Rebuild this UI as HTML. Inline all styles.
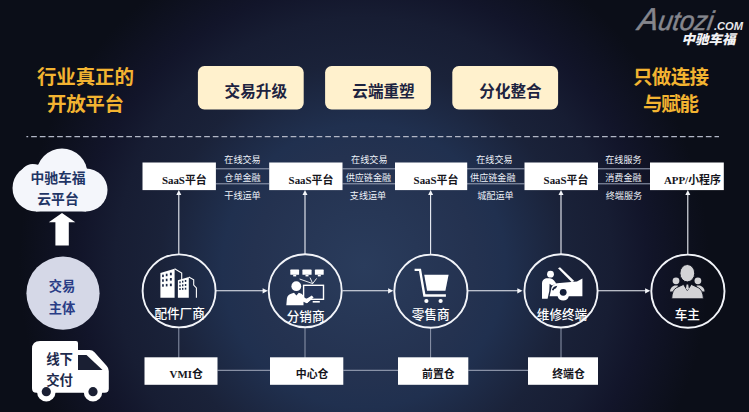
<!DOCTYPE html>
<html lang="zh-CN">
<head>
<meta charset="utf-8">
<title>中驰车福 行业真正的开放平台</title>
<style>
html,body{margin:0;padding:0;background:#0b0e18;}
body{width:749px;height:412px;overflow:hidden;position:relative;}
svg{display:block;position:absolute;left:0;top:0;}
.cjk{font-family:"Liberation Sans","Noto Sans CJK SC",sans-serif;}
.ttl{font-family:"Liberation Sans","Noto Sans CJK SC",sans-serif;font-weight:700;font-size:19.5px;fill:#f3b431;}
.btn{font-family:"Liberation Sans","Noto Sans CJK SC",sans-serif;font-weight:700;font-size:15.6px;fill:#1d2340;}
.box{font-family:"Liberation Serif","Noto Sans CJK SC",serif;font-weight:700;font-size:10.9px;fill:#15151c;}
.lab{font-family:"Liberation Sans","Noto Sans CJK SC",sans-serif;font-weight:400;font-size:9.1px;fill:#eef2f9;}
.cir{font-family:"Liberation Sans","Noto Sans CJK SC",sans-serif;font-weight:500;font-size:12.6px;fill:#ffffff;}
.cld{font-family:"Liberation Sans","Noto Sans CJK SC",sans-serif;font-weight:700;font-size:13.8px;fill:#1f3565;}
.sub{font-family:"Liberation Sans","Noto Sans CJK SC",sans-serif;font-weight:700;font-size:13.3px;fill:#2a3d86;}
.trk{font-family:"Liberation Sans","Noto Sans CJK SC",sans-serif;font-weight:700;font-size:13.4px;fill:#1e2b4d;}
</style>
</head>
<body>
<svg width="749" height="412" viewBox="0 0 749 412">
<defs>
<radialGradient id="bg" cx="364" cy="266" r="345" gradientUnits="userSpaceOnUse">
<stop offset="0" stop-color="#2a3c5c"/>
<stop offset="0.32" stop-color="#243250"/>
<stop offset="0.41" stop-color="#20304f"/>
<stop offset="0.59" stop-color="#1a2239"/>
<stop offset="0.72" stop-color="#171d33"/>
<stop offset="0.82" stop-color="#12152a"/>
<stop offset="1" stop-color="#0b0e18"/>
</radialGradient>
</defs>
<rect width="749" height="412" fill="#0b0e18"/>
<rect width="749" height="412" fill="url(#bg)"/>

<!-- logo -->
<g id="logo">
<text transform="translate(637 29.6) skewX(-9)" font-family="'Liberation Sans',sans-serif" font-style="italic" font-weight="400" fill="#85868d" stroke="#85868d" stroke-width="0.5" textLength="75" lengthAdjust="spacingAndGlyphs"><tspan font-size="31.5">A</tspan><tspan font-size="27">utozi</tspan></text>
<text x="714" y="29.5" font-family="'Liberation Sans',sans-serif" font-style="italic" font-weight="700" font-size="10.5" fill="#e8e8ea" textLength="29" lengthAdjust="spacingAndGlyphs">.COM</text>
<text transform="translate(681.5 43.8) skewX(-14)" font-family="'Liberation Sans','Noto Sans CJK SC',sans-serif" font-weight="900" font-size="13.2" fill="#f2f2f4" textLength="54" lengthAdjust="spacingAndGlyphs">中驰车福</text>
</g>

<!-- titles -->
<text class="ttl" x="85.5" y="83.6" text-anchor="middle" textLength="97" lengthAdjust="spacing">行业真正的</text>
<text class="ttl" x="85.5" y="111.1" text-anchor="middle" textLength="77" lengthAdjust="spacing">开放平台</text>
<text class="ttl" x="671" y="83.6" text-anchor="middle" textLength="76" lengthAdjust="spacing">只做连接</text>
<text class="ttl" x="671" y="111.1" text-anchor="middle" textLength="56" lengthAdjust="spacing">与赋能</text>

<!-- buttons -->
<rect x="197.9" y="66.1" width="105.8" height="43.4" rx="6.5" fill="#fff1cd"/>
<rect x="325.1" y="66.1" width="105.8" height="43.4" rx="6.5" fill="#fff1cd"/>
<rect x="452.3" y="66.1" width="105.8" height="43.4" rx="6.5" fill="#fff1cd"/>
<text class="btn" x="255.8" y="96.5" text-anchor="middle">交易升级</text>
<text class="btn" x="383.5" y="96.5" text-anchor="middle">云端重塑</text>
<text class="btn" x="510.5" y="96.5" text-anchor="middle">分化整合</text>

<!-- dashed line -->
<line x1="26.4" y1="136.6" x2="719" y2="136.6" stroke="#b2b7c6" stroke-width="1.4" stroke-dasharray="5.7 2.95" stroke-dashoffset="3.9"/>

<!-- cloud -->
<g id="cloud" fill="#f4f6fb">
<circle cx="36" cy="188" r="23.5"/>
<circle cx="86" cy="190" r="21.5"/>
<circle cx="62" cy="174" r="25.5"/>
<circle cx="32.5" cy="176" r="12"/>
<rect x="36" y="180" width="50" height="31.5"/>
</g>
<text class="cld" x="58" y="182.8" text-anchor="middle">中驰车福</text>
<text class="cld" x="58" y="204.4" text-anchor="middle">云平台</text>

<!-- big up arrow -->
<path d="M62 213 L75.3 222.3 L68.8 222.3 L68.8 245.5 L55.4 245.5 L55.4 222.3 L48.8 222.3 Z" fill="#ffffff"/>

<!-- subject circle -->
<circle cx="63" cy="293.2" r="36.6" fill="#d5d8e7"/>
<text class="sub" x="62" y="291" text-anchor="middle">交易</text>
<text class="sub" x="62" y="313.4" text-anchor="middle">主体</text>

<!-- truck -->
<g id="truck">
<path d="M40 341 H76 Q78 341 78 343 V350 H89.5 Q92.5 350 94.5 352.3 L106.8 366 Q108.8 368.3 108.8 371 V388.7 Q108.8 392.8 104.7 392.8 H36.5 Q32 392.8 32 388.3 V349 Q32 341 40 341 Z" fill="#ffffff"/>
<path d="M78 355 H86.5 L102.5 370 H78 Z" fill="#1a1f33"/>
<circle cx="46.3" cy="392.3" r="9.2" fill="#ffffff"/>
<circle cx="93" cy="392.3" r="9.2" fill="#ffffff"/>
<circle cx="46.3" cy="391.7" r="4.6" fill="#1a1f33"/>
<circle cx="93" cy="391.7" r="4.6" fill="#1a1f33"/>
</g>
<text class="trk" x="59.6" y="363.6" text-anchor="middle">线下</text>
<text class="trk" x="59.6" y="385" text-anchor="middle">交付</text>

<!-- vertical lines circle->box with arrow heads -->
<g stroke="#eef1f7" stroke-width="1.1" fill="none">
<line x1="178.8" y1="193" x2="178.8" y2="254"/>
<line x1="305" y1="193" x2="305" y2="254"/>
<line x1="430.6" y1="193" x2="430.6" y2="254"/>
<line x1="561" y1="193" x2="561" y2="254"/>
<line x1="687.8" y1="193" x2="687.8" y2="254"/>
</g>
<g fill="#f4f6fa">
<path d="M178.8 190 L181.3 195 L176.3 195 Z"/>
<path d="M305 190 L307.5 195 L302.5 195 Z"/>
<path d="M430.6 190 L433.1 195 L428.1 195 Z"/>
<path d="M561 190 L563.5 195 L558.5 195 Z"/>
<path d="M687.8 190 L690.3 195 L685.3 195 Z"/>
</g>

<!-- lower vertical lines -->
<g stroke="#8f98ad" stroke-width="1" fill="none">
<line x1="178.8" y1="328" x2="178.8" y2="358"/>
<line x1="305" y1="328" x2="305" y2="358"/>
<line x1="430.6" y1="328" x2="430.6" y2="358"/>
<line x1="561" y1="328" x2="561" y2="358"/>
</g>

<!-- connectors between top boxes -->
<g stroke="#9aa3b8" stroke-width="1" fill="none">
<path d="M216 168.8 H269 M216 183.8 H269"/>
<path d="M342.5 168.8 H395 M342.5 183.8 H395"/>
<path d="M467 168.8 H524.5 M467 183.8 H524.5"/>
<path d="M598 168.8 H650 M598 183.8 H650"/>
</g>
<!-- connectors between bottom boxes -->
<g stroke="#a3abbd" stroke-width="1" fill="none">
<path d="M217.5 370.3 H270 M343.3 370.3 H398 M468.3 370.3 H528"/>
</g>

<!-- top boxes -->
<g fill="#ffffff">
<rect x="142.5" y="162.5" width="73.4" height="27.6"/>
<rect x="269.2" y="162.5" width="73.3" height="27.6"/>
<rect x="395" y="162.5" width="72.2" height="27.6"/>
<rect x="524.5" y="162.5" width="73.5" height="27.6"/>
<rect x="650" y="162.5" width="73.8" height="27.6"/>
</g>
<text class="box" x="184.3" y="184" text-anchor="middle">SaaS平台</text>
<text class="box" x="311" y="184" text-anchor="middle">SaaS平台</text>
<text class="box" x="436" y="184" text-anchor="middle">SaaS平台</text>
<text class="box" x="566" y="184" text-anchor="middle">SaaS平台</text>
<text class="box" x="692.4" y="184" text-anchor="middle">APP/小程序</text>

<!-- labels -->
<g class="lab" text-anchor="middle">
<text x="242.5" y="162.8">在线交易</text>
<text x="242.5" y="181.4">仓单金融</text>
<text x="242.5" y="198.9">干线运单</text>
<text x="369.3" y="162.8">在线交易</text>
<text x="368.4" y="181.4">供应链金融</text>
<text x="368" y="198.9">支线运单</text>
<text x="494.4" y="162.8">在线交易</text>
<text x="492.8" y="181.4">供应链金融</text>
<text x="495.4" y="198.9">城配运单</text>
<text x="623.4" y="162.8">在线服务</text>
<text x="623.4" y="181.4">消费金融</text>
<text x="623.9" y="198.9">终端服务</text>
</g>

<!-- bottom boxes -->
<g fill="#ffffff">
<rect x="144.5" y="357.3" width="73" height="27.5"/>
<rect x="270" y="357.3" width="73.3" height="27.5"/>
<rect x="398" y="357.3" width="70.3" height="27.5"/>
<rect x="528" y="357.3" width="70" height="27.5"/>
</g>
<text class="box" x="186.2" y="377.9" text-anchor="middle">VMI仓</text>
<text class="box" x="312.1" y="377.9" text-anchor="middle">中心仓</text>
<text class="box" x="438.4" y="377.9" text-anchor="middle">前置仓</text>
<text class="box" x="568.5" y="377.9" text-anchor="middle">终端仓</text>

<!-- horizontal arrows between circles -->
<g stroke="#eef1f7" stroke-width="1.1" fill="none">
<line x1="216" y1="290.8" x2="264" y2="290.8"/>
<line x1="342.5" y1="290.8" x2="390" y2="290.8"/>
<line x1="468" y1="290.8" x2="519" y2="290.8"/>
<line x1="598" y1="290.8" x2="647" y2="290.8"/>
</g>
<g fill="#f4f6fa">
<path d="M267.8 290.8 L262.6 288.2 L262.6 293.4 Z"/>
<path d="M393.3 290.8 L388.1 288.2 L388.1 293.4 Z"/>
<path d="M522.5 290.8 L517.3 288.2 L517.3 293.4 Z"/>
<path d="M650.3 290.8 L645.1 288.2 L645.1 293.4 Z"/>
</g>

<!-- circles -->
<g stroke="#f2f4f9" stroke-width="1.9" fill="none">
<circle cx="179.1" cy="290.9" r="36.5"/>
<circle cx="305.2" cy="290.7" r="36.5"/>
<circle cx="430.9" cy="291.2" r="36.6"/>
<circle cx="561" cy="290.9" r="36.6"/>
<circle cx="687.9" cy="291.2" r="36.6"/>
</g>
<g class="cir" text-anchor="middle">
<text x="179.6" y="318.3">配件厂商</text>
<text x="305.6" y="321.3" >分销商</text>
<text x="430.6" y="319">零售商</text>
<text x="562" y="318.8">维修终端</text>
<text x="687.3" y="318.6">车主</text>
</g>

<!-- icon: buildings -->
<g id="ico-build">
<path d="M160.4 273.1 L174.6 268.7 L174.6 297.7 L160.4 297.7 Z" fill="#ffffff"/>
<path d="M174.6 268.7 L181.7 273 L181.7 280" fill="none" stroke="#ffffff" stroke-width="1.1"/>
<g fill="#1c2947">
<rect x="162.1" y="274.6" width="1.7" height="2.5"/><rect x="165.8" y="273.7" width="1.7" height="2.5"/><rect x="169.9" y="272.7" width="1.9" height="2.6"/>
<rect x="162.1" y="279.3" width="1.7" height="2.5"/><rect x="165.8" y="278.7" width="1.7" height="2.5"/><rect x="169.9" y="278" width="1.9" height="2.6"/>
<rect x="162.1" y="284.2" width="1.7" height="2.5"/><rect x="165.8" y="283.9" width="1.7" height="2.5"/><rect x="169.9" y="283.6" width="1.9" height="2.6"/>
</g>
<path d="M177.9 280.2 L188.8 276.9 L188.8 297.7 L177.9 297.7 Z" fill="#ffffff"/>
<path d="M188.8 276.9 L193.7 279.7 L193.7 285.1 L196.4 287.9 L196.4 297.7" fill="none" stroke="#ffffff" stroke-width="1.1"/>
<g fill="#1c2947">
<rect x="179.3" y="281.4" width="1.4" height="1.9"/><rect x="182" y="280.7" width="1.4" height="1.9"/><rect x="184.8" y="280" width="1.5" height="1.9"/>
<rect x="179.3" y="284.8" width="1.4" height="1.9"/><rect x="182" y="284.4" width="1.4" height="1.9"/><rect x="184.8" y="284" width="1.5" height="1.9"/>
<rect x="179.3" y="288.1" width="1.4" height="1.9"/><rect x="182" y="287.9" width="1.4" height="1.9"/><rect x="184.8" y="287.7" width="1.5" height="1.9"/>
</g>
</g>

<!-- icon: distributor -->
<g id="ico-dist">
<g fill="#ffffff">
<rect x="290.3" y="269.6" width="8.8" height="5.2" rx="0.6"/>
<rect x="302.4" y="269.6" width="9.2" height="5.2" rx="0.6"/>
<rect x="314.9" y="269.6" width="8.8" height="5.2" rx="0.6"/>
<rect x="293.2" y="274.8" width="3" height="1.6"/>
<rect x="305.5" y="274.8" width="3" height="1.6"/>
<rect x="317.8" y="274.8" width="3" height="1.6"/>
<circle cx="296.3" cy="286.2" r="4.9"/>
<path d="M286.3 305.3 L286.9 298.5 Q287.5 295 291 293.8 L294 292.8 L296.4 295.6 L298.8 292.8 L301.5 293.8 L306.5 298.6 L311.6 295.7 L313.5 297.5 L307.2 303 L303.5 301.2 L303.5 305.3 Z"/>
<rect x="312.7" y="301" width="7.1" height="1.6"/>
</g>
<g stroke="#ffffff" stroke-width="0.9" fill="none">
<path d="M299.6 279 L312.7 283.6 M310 277.6 L312.7 283.6 M316.6 278.4 L312.7 283.6"/>
</g>
<rect x="303.6" y="285.3" width="19.9" height="14" fill="#26365a" stroke="#ffffff" stroke-width="1.4"/>
<path d="M300.5 294.5 L306.3 299 L311.8 295.6 L313.6 297.6 L306.8 303.2 L300.5 300.5 Z" fill="#ffffff"/>
</g>

<!-- icon: cart -->
<g id="ico-cart">
<path d="M414.6 269.9 L420 269.9 L424.4 295.5 L445.9 295.5" fill="none" stroke="#ffffff" stroke-width="2.4" stroke-linejoin="miter"/>
<path d="M424.2 274.7 L448.6 274.7 L445.4 290.7 L427.1 290.7 Z" fill="#ffffff"/>
<circle cx="426.4" cy="301" r="2.1" fill="#ffffff"/>
<circle cx="440.6" cy="301" r="2.1" fill="#ffffff"/>
</g>

<!-- icon: mechanic & car -->
<g id="ico-repair" fill="#ffffff">
<circle cx="550.5" cy="274.2" r="3.4"/>
<path d="M542 298.8 L542 283 Q542.3 279.3 546 278.3 L550 278.3 Q552.5 278.5 554 280.5 L556.3 283.5 L552 285.5 L549.6 283.8 L549.3 291 L547.6 298.8 Z"/>
<path d="M558 268.2 L560 267.2 L574.3 281 L571.8 282.3 Z"/>
<path d="M549.6 296.2 L551.5 287.5 Q553 284 557 283.3 L571 282 L577 281.6 L582.4 278.4 L582.4 296.2 L568.8 296.2 A5.8 5.8 0 0 1 557.6 296.2 Z"/>
</g>
<circle cx="563.2" cy="292.3" r="3.4" fill="#15203a"/>
<path d="M551.8 290 Q553 286.3 557.3 285.7 L556 288.2 Q554 288.4 553.4 290.6 Z" fill="#15203a"/>

<!-- icon: people -->
<g id="ico-people" fill="#d3d3d6">
<circle cx="676" cy="280.8" r="3.4"/>
<circle cx="697.9" cy="280.8" r="3.4"/>
<path d="M670 291.5 Q670.3 287 674.5 285.6 L678 285.6 L676 291.5 Z"/>
<path d="M704.6 291.5 Q704.3 287 700 285.6 L696.5 285.6 L698.5 291.5 Z"/>
<ellipse cx="687.3" cy="273.2" rx="7.4" ry="8.7" stroke="#10131f" stroke-width="1"/>
<path stroke="#10131f" stroke-width="0.9" d="M671.7 298.8 Q672 290 676.5 287.7 L683.5 284.4 L687.3 290.5 L691.3 284.4 L698.3 287.7 Q703 290 703.4 298.8 Z"/>
</g>
<path d="M686.6 284.6 L688.2 284.6 L688.8 288.6 L687.4 290.6 L686 288.6 Z" fill="#d3d3d6"/>
</svg>
</body>
</html>
